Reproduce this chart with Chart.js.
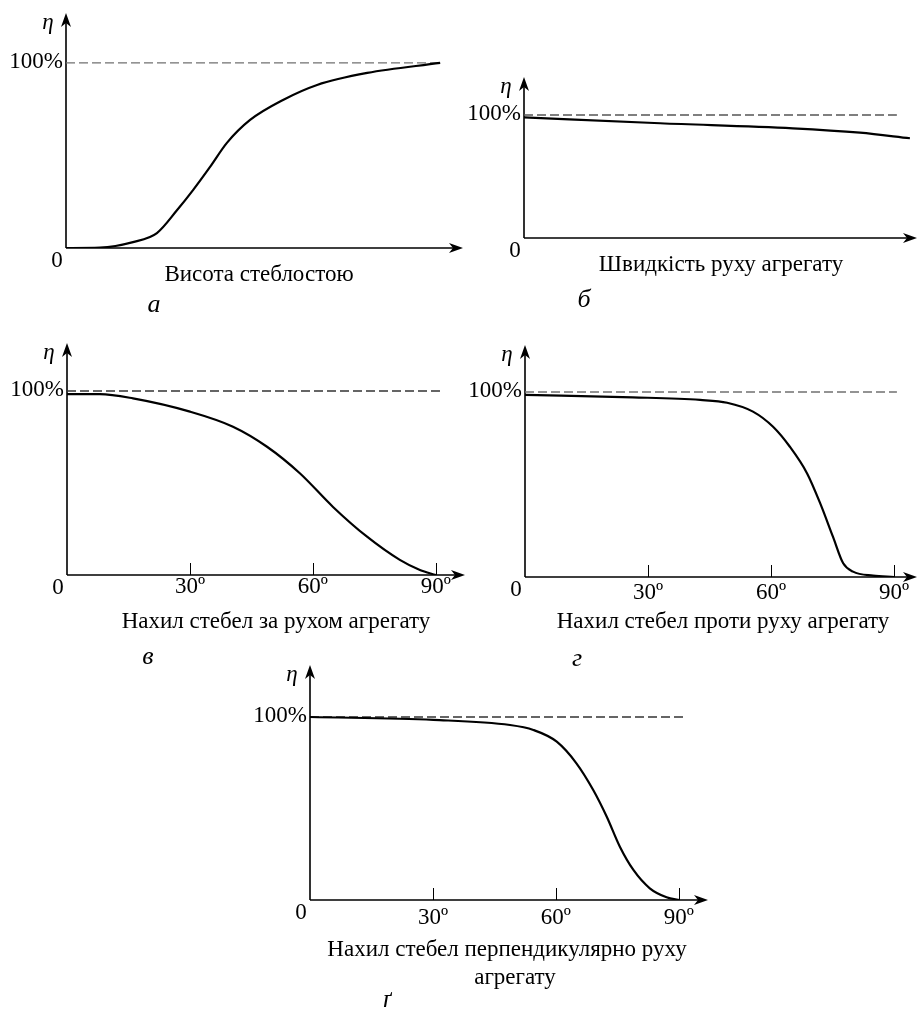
<!DOCTYPE html>
<html>
<head>
<meta charset="utf-8">
<script src="https://cdn.jsdelivr.net/npm/chart.js@4.4.1/dist/chart.umd.min.js"></script>
<style>
    html, body { margin: 0; padding: 0; background: #fff; }
    #wrap { position: relative; width: 918px; height: 1013px; overflow: hidden; }
    #wrap canvas { position: absolute; left: 0; top: 0; }
</style>
</head>
<body>
<div id="wrap">
    <canvas id="chart-a" width="918" height="1013"></canvas>
    <canvas id="chart-b" width="918" height="1013"></canvas>
    <canvas id="chart-v" width="918" height="1013"></canvas>
    <canvas id="chart-g" width="918" height="1013"></canvas>
    <canvas id="chart-gg" width="918" height="1013"></canvas>
</div>
<script>
// --- дані (η, %) ---
// а) висота стеблостою (умовні одиниці, 0..100)
const heightX   = [0, 9.1, 17.9, 24.3, 29.7, 34.0, 38.5, 43.0, 49.2, 58.0, 67.1, 80.5, 100];
const heightEta = [0, 0.2, 3.2, 8.1, 20.5, 31.4, 43.8, 56.8, 69.2, 80.0, 88.1, 94.6, 100];
// б) швидкість руху агрегату (умовні одиниці)
const speedX   = [0, 36.5, 72.1, 90.1, 103.5];
const speedEta = [98.1, 93.3, 89.2, 85.6, 81.1];
// в) нахил стебел за рухом агрегату, градуси
const forwardX   = [0, 8.0, 16.1, 30.0, 40.5, 48.8, 56.8, 64.9, 73.2, 81.2, 86.1, 90];
const forwardEta = [98.3, 98.3, 96.0, 88.8, 80.6, 69.7, 55.3, 37.0, 20.8, 8.2, 2.7, 0];
// г) нахил стебел проти руху агрегату
const againstX   = [0, 26.3, 42.7, 49.3, 55.6, 60.5, 64.6, 68.8, 72.0, 75.1, 77.6, 80.0, 84.9, 90];
const againstEta = [98.4, 97.1, 95.7, 94.2, 89.4, 81.2, 70.4, 56.0, 39.8, 21.8, 7.4, 2.9, 0.7, 0];
// ґ) нахил стебел перпендикулярно руху
const perpX   = [0, 30.1, 48.8, 54.5, 60.2, 65.0, 69.1, 72.4, 75.6, 78.9, 82.9, 87.0, 90.2];
const perpEta = [100, 98.4, 95.6, 92.9, 86.5, 74.7, 60.1, 45.5, 29.1, 16.4, 6.4, 1.5, 0];

// рівень 100% (пунктир)
const fullEta = [100, 100];
const dashEndX = { a: 100, b: 100, v: 91, g: 90.7, gg: 91 };

// підписи
const angleTicks = [30, 60, 90];
const angleTickLabels = ['30º', '60º', '90º'];
const yLabel = 'η';
const fullLabel = '100%';
const zeroLabel = '0';
const titles = {
    a: ['Висота стеблостою'],
    b: ['Швидкість руху агрегату'],
    v: ['Нахил стебел за рухом агрегату'],
    g: ['Нахил стебел проти руху агрегату'],
    gg: ['Нахил стебел перпендикулярно руху', 'агрегату']
};
const letters = { a: 'а', b: 'б', v: 'в', g: 'г', gg: 'ґ' };

const FONT = "'Liberation Serif', 'Times New Roman', serif";

function drawArrow(ctx, x, y, dir){
    // dir: 'up' або 'right'
    ctx.save();
    ctx.translate(x, y);
    if(dir === 'up') ctx.rotate(-Math.PI/2);
    ctx.beginPath();
    ctx.moveTo(0, 0);
    ctx.lineTo(-14, -5);
    ctx.lineTo(-10, 0);
    ctx.lineTo(-14, 5);
    ctx.closePath();
    ctx.fillStyle = '#000';
    ctx.fill();
    ctx.restore();
}

// плагін: осі зі стрілками, риски, підписи
function sketchPlugin(cfg){
    return {
        id: 'sketch',
        beforeDatasetsDraw(chart){
            const ctx = chart.ctx, area = chart.chartArea;
            const xs = chart.scales.x, ys = chart.scales.y;
            const ox = xs.getPixelForValue(0), oy = ys.getPixelForValue(0);
            ctx.save();
            ctx.strokeStyle = '#000';
            ctx.lineWidth = 1.6;
            ctx.beginPath();
            ctx.moveTo(ox, oy); ctx.lineTo(area.right - 8, oy);
            ctx.moveTo(ox, oy); ctx.lineTo(ox, area.top + 8);
            ctx.stroke();
            drawArrow(ctx, area.right, oy, 'right');
            drawArrow(ctx, ox, area.top, 'up');
            // риски вгору від осі
            if(cfg.ticks){
                ctx.lineWidth = 1;
                cfg.ticks.forEach(t=>{
                    const px = Math.round(xs.getPixelForValue(t)) + 0.5;
                    ctx.beginPath(); ctx.moveTo(px, oy); ctx.lineTo(px, oy - 12); ctx.stroke();
                });
            }
            ctx.restore();
        },
        afterDatasetsDraw(chart){
            const ctx = chart.ctx, area = chart.chartArea;
            const xs = chart.scales.x, ys = chart.scales.y;
            const ox = xs.getPixelForValue(0), oy = ys.getPixelForValue(0);
            const y100 = ys.getPixelForValue(100);
            ctx.save();
            ctx.fillStyle = '#000';
            ctx.textBaseline = 'middle';
            // η
            ctx.font = 'italic 23px ' + FONT;
            ctx.textAlign = 'center';
            ctx.fillText(yLabel, ox - 18, area.top + 10);
            // 100%
            ctx.font = '23px ' + FONT;
            ctx.textAlign = 'right';
            ctx.fillText(fullLabel, ox - 3, y100 - 1);
            // 0
            ctx.textAlign = 'center';
            ctx.fillText(zeroLabel, ox - 9, oy + 13);
            // підписи рисок
            if(cfg.ticks){
                cfg.ticks.forEach((t, i)=>{
                    ctx.fillText(cfg.tickLabels[i], xs.getPixelForValue(t), oy + cfg.tickDy);
                });
            }
            // назва осі
            cfg.title.forEach((line, i)=>{
                ctx.fillText(line, cfg.titleAt[0] + (cfg.titleDx ? cfg.titleDx[i] : 0), cfg.titleAt[1] + i * 28);
            });
            // літера рисунка
            ctx.font = 'italic 26px ' + FONT;
            ctx.fillText(cfg.letter, cfg.letterAt[0], cfg.letterAt[1]);
            ctx.restore();
        }
    };
}

function makeChart(id, cfg){
    const curve = cfg.xs.map((x, i)=>({ x, y: cfg.ys[i] }));
    const dash = [{ x: 0, y: fullEta[0] }, { x: cfg.dashEnd, y: fullEta[1] }];
    return new Chart(document.getElementById(id), {
        type: 'line',
        data: { datasets: [
            { data: curve, borderColor: '#000', borderWidth: 2.2, pointRadius: 0, cubicInterpolationMode: 'monotone', fill: false, order: 1 },
            { data: dash, borderColor: cfg.dashColor, borderWidth: 1.3, borderDash: [9, 4], pointRadius: 0, fill: false, order: 2 }
        ]},
        options: {
            responsive: false, animation: false, events: [],
            layout: { padding: cfg.pad },
            plugins: { legend: { display: false }, tooltip: { enabled: false } },
            scales: {
                x: { type: 'linear', display: false, min: 0, max: cfg.xMax },
                y: { type: 'linear', display: false, min: 0, max: cfg.yMax }
            }
        },
        plugins: [sketchPlugin(cfg)]
    });
}

makeChart('chart-a', {
    xs: heightX, ys: heightEta, dashEnd: dashEndX.a, dashColor: '#707070',
    pad: { left: 66, top: 13, right: 455, bottom: 765 }, xMax: 106.1, yMax: 127,
    title: titles.a, titleAt: [259, 275], letter: letters.a, letterAt: [154, 305]
});
makeChart('chart-b', {
    xs: speedX, ys: speedEta, dashEnd: dashEndX.b, dashColor: '#555',
    pad: { left: 524, top: 77, right: 1, bottom: 775 }, xMax: 105.4, yMax: 130.9,
    title: titles.b, titleAt: [721, 265], letter: letters.b, letterAt: [584, 300]
});
makeChart('chart-v', {
    xs: forwardX, ys: forwardEta, dashEnd: dashEndX.v, dashColor: '#333',
    pad: { left: 67, top: 343, right: 453, bottom: 438 }, xMax: 97.1, yMax: 126.1,
    ticks: angleTicks, tickLabels: angleTickLabels, tickDy: 12,
    title: titles.v, titleAt: [276, 622], letter: letters.v, letterAt: [148, 657]
});
makeChart('chart-g', {
    xs: againstX, ys: againstEta, dashEnd: dashEndX.g, dashColor: '#707070',
    pad: { left: 525, top: 345, right: 1, bottom: 436 }, xMax: 95.6, yMax: 125.4,
    ticks: angleTicks, tickLabels: angleTickLabels, tickDy: 16,
    title: titles.g, titleAt: [723, 622], letter: letters.g, letterAt: [577, 659]
});
makeChart('chart-gg', {
    xs: perpX, ys: perpEta, dashEnd: dashEndX.gg, dashColor: '#333',
    pad: { left: 310, top: 665, right: 210, bottom: 113 }, xMax: 97.1, yMax: 128.4,
    ticks: angleTicks, tickLabels: angleTickLabels, tickDy: 18,
    title: titles.gg, titleAt: [507, 950], titleDx: [0, 8], letter: letters.gg, letterAt: [387, 1000]
});
</script>
</body>
</html>
